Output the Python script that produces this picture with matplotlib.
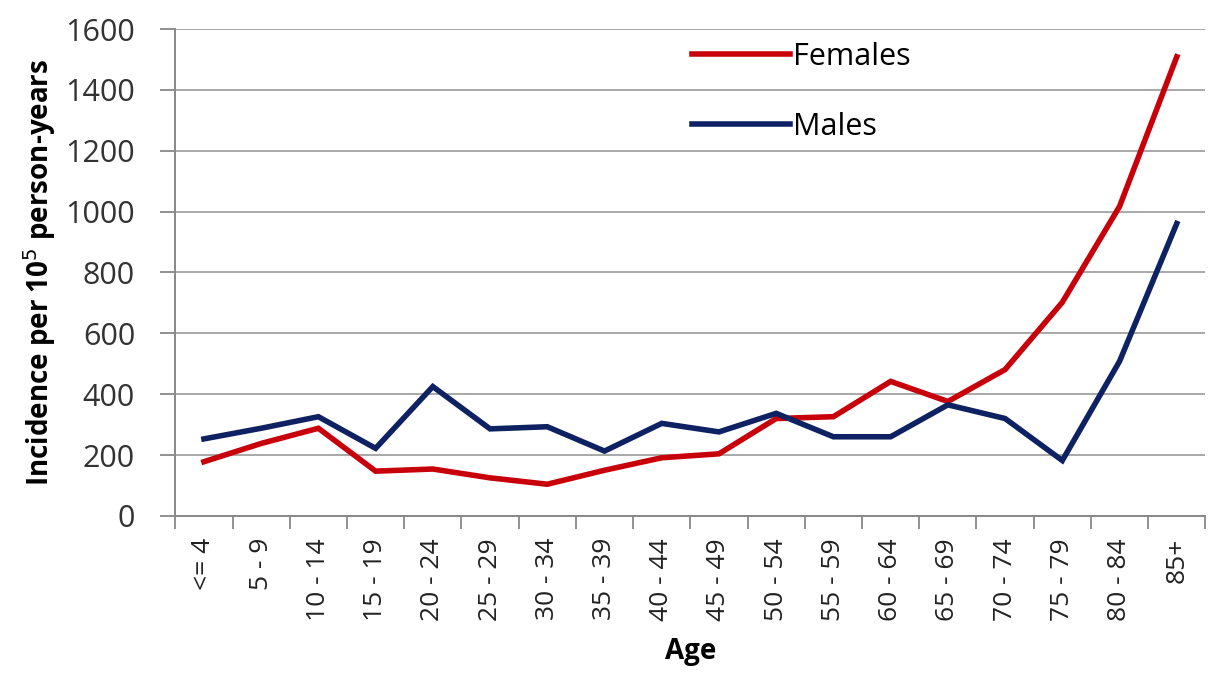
import matplotlib.pyplot as plt
import numpy as np

plt.rcParams["font.family"] = ["Open Sans", "DejaVu Sans"]

age_groups = ["<= 4", "5 - 9", "10 - 14", "15 - 19", "20 - 24", "25 - 29",
              "30 - 34", "35 - 39", "40 - 44", "45 - 49", "50 - 54", "55 - 59",
              "60 - 64", "65 - 69", "70 - 74", "75 - 79", "80 - 84", "85+"]
females = [178, 238, 288, 147, 154, 125, 104, 150, 191, 204, 320, 326,
           442, 376, 481, 702, 1017, 1509]
males = [253, 288, 326, 222, 425, 286, 293, 213, 304, 276, 337, 260,
         260, 365, 320, 182, 508, 961]

fig = plt.figure(figsize=(12.09, 6.77), dpi=100)
ax = fig.add_axes([0.145, 0.238, 0.852, 0.719])

x = np.arange(len(age_groups))
ax.plot(x, females, color="#C8000A", linewidth=4.0, label="Females",
        solid_joinstyle="miter")
ax.plot(x, males, color="#0E2263", linewidth=4.0, label="Males",
        solid_joinstyle="miter")

ax.set_xlim(-0.5, len(age_groups) - 0.5)
ax.set_ylim(0, 1600)
ax.set_yticks(np.arange(0, 1601, 200))
ax.grid(axis="y", color="#A8A8A8", linewidth=1.4)
ax.set_axisbelow(True)

# category labels centred, tick marks on category boundaries
ax.set_xticks(x)
ax.set_xticklabels(age_groups, rotation=90, fontsize=19, color="#222222")
ax.tick_params(axis="x", which="major", length=0, pad=16)
ax.set_xticks(np.arange(-0.5, len(age_groups), 1.0), minor=True)
ax.tick_params(axis="x", which="minor", length=9, color="#888888", width=1.3)
ax.tick_params(axis="y", length=11, color="#888888", width=1.3, labelsize=22,
               pad=18, labelcolor="#333333")

for side in ["top", "right"]:
    ax.spines[side].set_visible(False)
for side in ["left", "bottom"]:
    ax.spines[side].set_color("#888888")
    ax.spines[side].set_linewidth(1.4)

ax.set_ylabel("Incidence per 10$^5$ person-years", fontsize=20,
              fontweight="bold", labelpad=5)
ax.set_xlabel("Age", fontsize=20, fontweight="bold", labelpad=12)

ax.legend(loc="upper left", bbox_to_anchor=(0.475, 1.03), frameon=False,
          fontsize=22, handlelength=3.2, handletextpad=0.1, labelspacing=1.3)

fig.savefig("out.png", dpi=100)
